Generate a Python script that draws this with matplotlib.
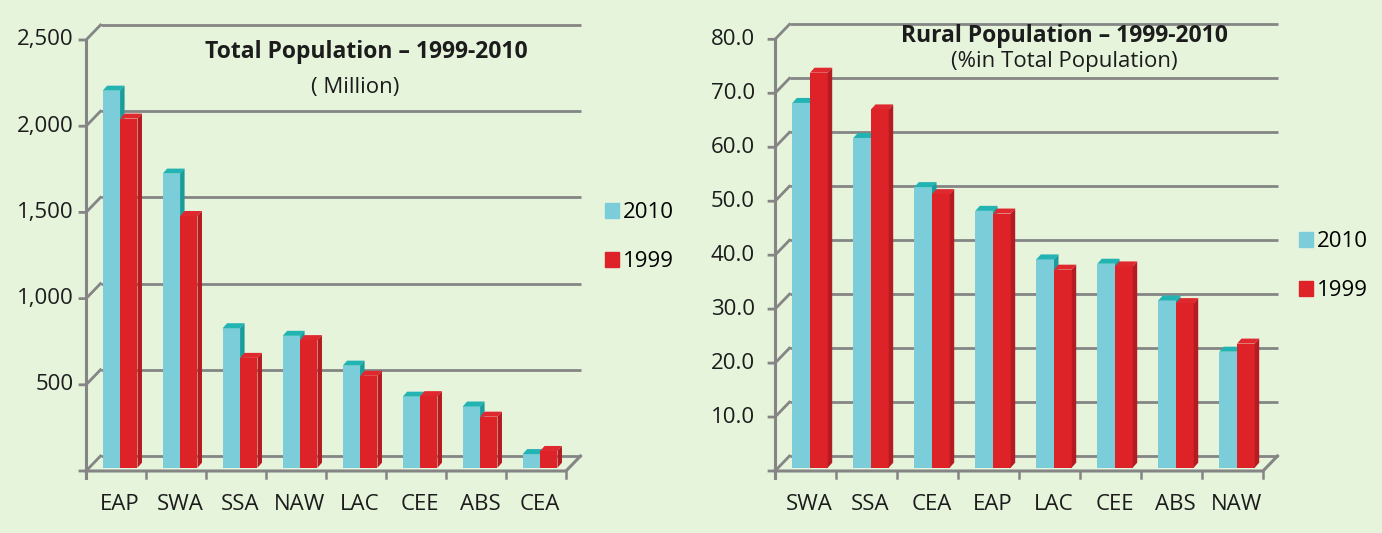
import numpy as np
import matplotlib.pyplot as plt
from matplotlib.patches import Polygon, Patch

W, H = 1382, 533

BG = '#e6f4dc'
GRID = '#858585'
BLUE, BLUE_TOP, BLUE_SIDE = '#7acdd9', '#22b3b3', '#1a9c9c'
RED, RED_TOP, RED_SIDE = '#dd2228', '#e0292e', '#b51c22'
TXT = '#1c1c1c'

# total population (million)
total_cats = ['EAP', 'SWA', 'SSA', 'NAW', 'LAC', 'CEE', 'ABS', 'CEA']
total_2010 = [2187, 1706, 809, 765, 592, 412, 355, 79]
total_1999 = [2025, 1460, 637, 740, 533, 415, 296, 97]
total_ticks = [0, 500, 1000, 1500, 2000, 2500]
total_labels = ['', '500', '1,000', '1,500', '2,000', '2,500']

# rural population (% of total)
rural_cats = ['SWA', 'SSA', 'CEA', 'EAP', 'LAC', 'CEE', 'ABS', 'NAW']
rural_2010 = [67.6, 61.1, 52.0, 47.6, 38.6, 37.8, 31.0, 21.5]
rural_1999 = [73.2, 66.4, 50.7, 47.1, 36.7, 37.3, 30.5, 23.0]
rural_ticks = [0, 10, 20, 30, 40, 50, 60, 70, 80]
rural_labels = [''] + ['%.1f' % t for t in rural_ticks[1:]]

plt.rcParams['font.family'] = ['Open Sans', 'DejaVu Sans']


def make_axes(fig, px_left, px_right, x0, slot, y0, kpx):
    # data units: one category per slot, values on y; pixel geometry fixed
    ax = fig.add_axes([px_left / W, 0, (px_right - px_left) / W, 1])
    ax.set_xlim((px_left - x0) / slot, (px_right - x0) / slot)
    ax.set_ylim((y0 - H) / kpx, y0 / kpx)
    ax.axis('off')
    return ax


def draw_panel(ax, cats, v10, v99, ticks, labels, slot, kpx, bar_left, bar_w, lab_gap):
    n = len(cats)
    bdx, bdy = 14.5 / slot, 15 / kpx
    ddx, ddy = 4.5 / slot, 5 / kpx
    base = 3.3 / kpx
    tl = 6 / slot

    for t in ticks:
        ax.plot([bdx, n + bdx], [t + bdy, t + bdy], color=GRID, lw=2.0,
                solid_capstyle='butt', zorder=1)
        ax.plot([-tl, 0, bdx], [t, t, t + bdy], color=GRID, lw=2.0, zorder=1)
    ax.plot([0, 0], [-7 / kpx, ticks[-1]], color=GRID, lw=2.2, zorder=5)
    ax.plot([0, n, n + bdx], [0, 0, bdy], color=GRID, lw=2.2, zorder=5)
    for i in range(1, n + 1):
        ax.plot([i, i], [0, -7 / kpx], color=GRID, lw=1.8, zorder=5)

    for t, lab in zip(ticks, labels):
        ax.text(-lab_gap / slot, t, lab, ha='right', va='center',
                fontsize=16, color=TXT)
    for i, c in enumerate(cats):
        ax.text(i + 0.5 + 4 / slot, -34 / kpx, c, ha='center', va='center',
                fontsize=16, color=TXT)

    x = np.arange(n)
    groups = [(v10, BLUE, BLUE_TOP, BLUE_SIDE, 0, 3),
              (v99, RED, RED_TOP, RED_SIDE, bar_w, 4)]
    for vals, front, top, side, off, z in groups:
        bars = ax.bar(x + bar_left + off, vals, width=bar_w, bottom=base,
                      align='edge', color=front, zorder=z)
        for r in bars:
            bx, by, bw, bh = r.get_x(), r.get_y(), r.get_width(), r.get_height()
            yt = by + bh
            ax.add_patch(Polygon([(bx, yt), (bx + ddx, yt + ddy),
                                  (bx + bw + ddx, yt + ddy), (bx + bw, yt)],
                                 closed=True, color=top, zorder=z, lw=0))
            ax.add_patch(Polygon([(bx + bw, by), (bx + bw, yt),
                                  (bx + bw + ddx, yt + ddy), (bx + bw + ddx, by + ddy)],
                                 closed=True, color=side, zorder=z, lw=0))


fig = plt.figure(figsize=(W / 100, H / 100), dpi=100)
fig.patch.set_facecolor(BG)

ax1 = make_axes(fig, 0, 691, 86, 60, 471, 0.1724)
draw_panel(ax1, total_cats, total_2010, total_1999, total_ticks, total_labels,
           60, 0.1724, 0.278, 0.29, 12)
ax2 = make_axes(fig, 691, W, 775, 61, 471, 5.396)
draw_panel(ax2, rural_cats, rural_2010, rural_1999, rural_ticks, rural_labels,
           61, 5.396, 0.284, 0.29, 20)

fig.text(366 / W, 1 - 52 / H, 'Total Population – 1999-2010', ha='center',
         va='center', fontsize=16.5, fontweight='bold', color=TXT)
fig.text(355 / W, 1 - 88 / H, '( Million)', ha='center', va='center',
         fontsize=16, color=TXT)
fig.text(1064 / W, 1 - 36 / H, 'Rural Population – 1999-2010', ha='center',
         va='center', fontsize=16.5, fontweight='bold', color=TXT)
fig.text(1064 / W, 1 - 62 / H, '(%in Total Population)', ha='center',
         va='center', fontsize=16, color=TXT)

handles = [Patch(color=BLUE, label='2010'), Patch(color=RED, label='1999')]
for ax, lx, cy in [(ax1, 605, 237), (ax2, 1299, 266)]:
    ax.legend(handles=handles, loc='center left',
              bbox_to_anchor=(lx / W, 1 - cy / H), bbox_transform=fig.transFigure,
              frameon=False, fontsize=16, handlelength=0.65, handleheight=0.65,
              handletextpad=0.15, labelspacing=1.25, borderpad=0, borderaxespad=0)

fig.savefig('out.png', dpi=100, facecolor=BG)
